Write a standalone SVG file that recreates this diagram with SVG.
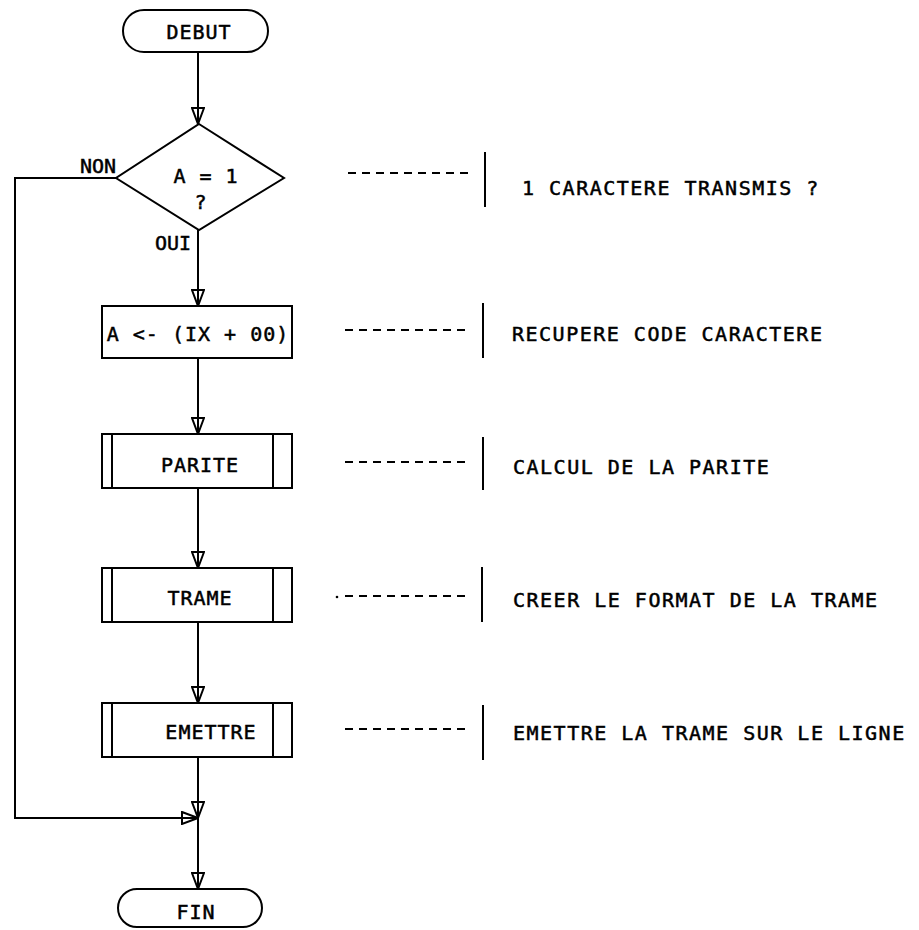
<svg xmlns="http://www.w3.org/2000/svg" width="919" height="930" viewBox="0 0 919 930">
<style>
.s{fill:#fff;stroke:#000;stroke-width:2}
.c{fill:none;stroke:#000;stroke-width:2}
.d{fill:none;stroke:#000;stroke-width:2;stroke-dasharray:8 6}
.t{font-family:"DejaVu Sans Mono","Liberation Mono",monospace;font-size:20px;fill:#000;stroke:#000;stroke-width:0.5}
.n{text-anchor:middle;letter-spacing:1px}
.a{letter-spacing:1.5px}
</style>
<defs>
<marker id="ah" viewBox="0 0 18 14" refX="17" refY="7" markerWidth="18" markerHeight="14" markerUnits="userSpaceOnUse" orient="auto">
<path d="M1,1 L17,7 L1,13 Z M1,7 L17,7" fill="#fff" stroke="#000" stroke-width="2"/>
</marker>
</defs>
<rect width="919" height="930" fill="#fff"/>
<g id="connectors">
<path class="c" d="M198,52 V124" marker-end="url(#ah)"/>
<path class="c" d="M198,230 V306" marker-end="url(#ah)"/>
<path class="c" d="M198,358 V434" marker-end="url(#ah)"/>
<path class="c" d="M198,488 V568" marker-end="url(#ah)"/>
<path class="c" d="M198,622 V703" marker-end="url(#ah)"/>
<path class="c" d="M198,757 V818" marker-end="url(#ah)"/>
<path class="c" d="M116,178 H15 V818 H198" marker-end="url(#ah)"/>
<path class="c" d="M198,818 V889" marker-end="url(#ah)"/>
<text class="t" x="116" y="173" text-anchor="end">NON</text>
<text class="t" x="191" y="250" text-anchor="end">OUI</text>
</g>
<g id="debut">
<rect class="s" x="123" y="10" width="145" height="42" rx="21"/>
<text class="t n" x="199" y="39">DEBUT</text>
</g>
<g id="test">
<polygon class="s" points="199,124 284,178 199,230 116,178"/>
<text class="t n" x="206" y="183">A = 1</text>
<text class="t n" x="201" y="209">?</text>
</g>
<g id="lecture">
<rect class="s" x="102" y="306" width="190" height="52"/>
<text class="t n" x="198" y="341">A &lt;- (IX + 00)</text>
</g>
<g id="parite">
<rect class="s" x="102" y="434" width="190" height="54"/>
<path class="c" d="M112,434 V488 M273,434 V488"/>
<text class="t n" x="200" y="472">PARITE</text>
</g>
<g id="trame">
<rect class="s" x="102" y="568" width="190" height="54"/>
<path class="c" d="M112,568 V622 M273,568 V622"/>
<text class="t n" x="200" y="605">TRAME</text>
</g>
<g id="emettre">
<rect class="s" x="102" y="703" width="190" height="54"/>
<path class="c" d="M112,703 V757 M273,703 V757"/>
<text class="t n" x="211" y="739">EMETTRE</text>
</g>
<g id="fin">
<rect class="s" x="118" y="889" width="144" height="38" rx="19"/>
<text class="t n" x="196" y="919">FIN</text>
</g>
<g id="annotations">
<path class="d" d="M348,173 H470"/>
<path class="c" d="M485,152 V207"/>
<text class="t a" x="522" y="195">1 CARACTERE TRANSMIS ?</text>
<path class="d" d="M345,330 H468"/>
<path class="c" d="M483,303 V358"/>
<text class="t a" x="512" y="341">RECUPERE CODE CARACTERE</text>
<path class="d" d="M345,462 H468"/>
<path class="c" d="M483,437 V490"/>
<text class="t a" x="513" y="474">CALCUL DE LA PARITE</text>
<circle cx="337" cy="597" r="1.3" fill="#000"/>
<path class="d" d="M345,596 H468"/>
<path class="c" d="M482,567 V622"/>
<text class="t a" x="513" y="607">CREER LE FORMAT DE LA TRAME</text>
<path class="d" d="M345,729 H468"/>
<path class="c" d="M483,705 V760"/>
<text class="t a" x="513" y="740">EMETTRE LA TRAME SUR LE LIGNE</text>
</g>
</svg>
